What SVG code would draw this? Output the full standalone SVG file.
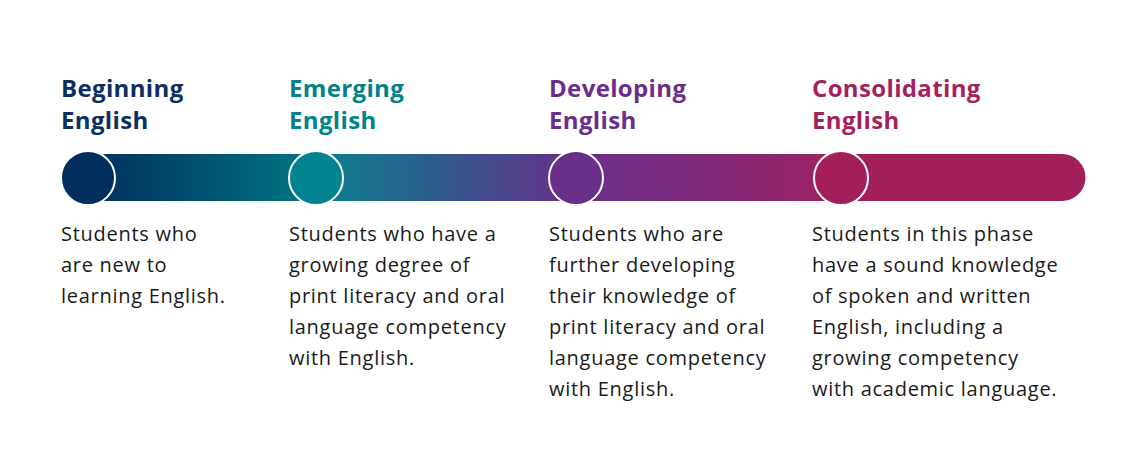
<svg xmlns="http://www.w3.org/2000/svg" width="1147" height="473" viewBox="0 0 1147 473">
<defs>
<linearGradient id="bar" gradientUnits="userSpaceOnUse" x1="88" y1="0" x2="841" y2="0">
<stop offset="0" stop-color="#022f5c"/>
<stop offset="0.149" stop-color="#00516f"/>
<stop offset="0.268" stop-color="#006f80"/>
<stop offset="0.335" stop-color="#137a8e"/>
<stop offset="0.467" stop-color="#2f5a8c"/>
<stop offset="0.648" stop-color="#6a2f8a"/>
<stop offset="0.813" stop-color="#7e2a7b"/>
<stop offset="0.972" stop-color="#9a2365"/>
<stop offset="1" stop-color="#a31f5c"/>
</linearGradient>
<style>
.h{font-family:"Open Sans","Liberation Sans",sans-serif;font-weight:700;font-size:24px;letter-spacing:0.35px}
.b{font-family:"Open Sans","Liberation Sans",sans-serif;font-size:20px;letter-spacing:0.72px;fill:#1a1a1a}
.dot{stroke:#ffffff;stroke-width:2}
</style>
</defs>
<rect width="1147" height="473" fill="#ffffff"/>
<g id="connectors">
<path d="M88 154 H1062 A23.5 23.5 0 0 1 1062 201 H88 Z" fill="url(#bar)"/>
</g>
<g id="beginning">
<circle class="dot" cx="88" cy="178" r="27" fill="#002e5d"/>
<text class="h" fill="#0b2f5e"><tspan x="61" y="97">Beginning</tspan><tspan x="61" y="129">English</tspan></text>
<text class="b"><tspan x="61" y="241">Students who</tspan><tspan x="61" y="272">are new to</tspan><tspan x="61" y="303">learning English.</tspan></text>
</g>
<g id="emerging">
<circle class="dot" cx="316" cy="178" r="27" fill="#00848f"/>
<text class="h" fill="#00828a"><tspan x="289" y="97">Emerging</tspan><tspan x="289" y="129">English</tspan></text>
<text class="b"><tspan x="289" y="241">Students who have a</tspan><tspan x="289" y="272">growing degree of</tspan><tspan x="289" y="303">print literacy and oral</tspan><tspan x="289" y="334">language competency</tspan><tspan x="289" y="365">with English.</tspan></text>
</g>
<g id="developing">
<circle class="dot" cx="576" cy="178" r="27" fill="#6a2f8a"/>
<text class="h" fill="#6a2d8a"><tspan x="549" y="97">Developing</tspan><tspan x="549" y="129">English</tspan></text>
<text class="b"><tspan x="549" y="241">Students who are</tspan><tspan x="549" y="272">further developing</tspan><tspan x="549" y="303">their knowledge of</tspan><tspan x="549" y="334">print literacy and oral</tspan><tspan x="549" y="365">language competency</tspan><tspan x="549" y="396">with English.</tspan></text>
</g>
<g id="consolidating">
<circle class="dot" cx="841" cy="178" r="27" fill="#a31f5c"/>
<text class="h" fill="#a41f5c"><tspan x="812" y="97">Consolidating</tspan><tspan x="812" y="129">English</tspan></text>
<text class="b"><tspan x="812" y="241">Students in this phase</tspan><tspan x="812" y="272">have a sound knowledge</tspan><tspan x="812" y="303">of spoken and written</tspan><tspan x="812" y="334">English, including a</tspan><tspan x="812" y="365">growing competency</tspan><tspan x="812" y="396">with academic language.</tspan></text>
</g>
</svg>
